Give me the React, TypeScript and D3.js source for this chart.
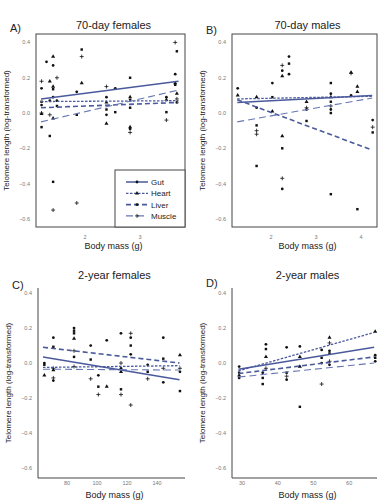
import React from 'react';
import * as d3 from 'd3';

const tissues = ['Gut', 'Heart', 'Liver', 'Muscle'];
const yTicks = [-0.6, -0.4, -0.2, 0, 0.2, 0.4];

// A) 70-day females
const gutA = [[1.21, 0.14], [1.21, 0.045], [1.3, 0.29], [1.36, 0.07], [1.42, 0.27], [1.42, 0.09], [1.49, 0.07], [1.85, 0.12], [2.39, 0.09], [2.39, -0.01], [2.55, 0.14], [2.82, 0.075], [2.82, -0.09], [3.48, 0.09], [3.64, 0.22], [3.67, 0.06]];
const heartA = [[1.21, -0.005], [1.36, 0.18], [1.42, 0.32], [1.42, 0.15], [1.42, -0.03], [1.94, 0.17], [2.39, 0.06], [2.39, -0.06], [2.82, 0.09], [2.82, -0.08], [3.48, 0.075], [3.64, 0.17], [3.67, 0.11]];
const liverA = [[1.21, 0.064], [1.21, -0.08], [1.36, -0.13], [1.42, 0.135], [1.42, -0.39], [1.49, 0.04], [1.85, -0.01], [1.94, 0.36], [2.39, 0.02], [2.55, 0.005], [2.82, 0.2], [2.82, 0.03], [3.48, 0.005], [3.64, 0.16], [3.67, 0.35]];
const muscleA = [[1.21, 0.18], [1.21, 0.0], [1.36, -0.01], [1.42, -0.55], [1.49, 0.2], [1.85, -0.51], [1.94, 0.32], [2.39, 0.15], [2.82, -0.11], [3.48, -0.04], [3.64, 0.4], [3.67, 0.08]];
const fitRangeA = [1.2, 3.7];
const fitsA = [[0.08, 0.18], [0.065, 0.07], [0.03, 0.06], [-0.05, 0.13]];

// B) 70-day males
const gutB = [[1.26, 0.14], [1.68, 0.03], [2.03, 0.17], [2.25, 0.24], [2.25, -0.43], [2.4, 0.32], [2.4, 0.22], [2.79, 0.02], [3.33, 0.11], [3.33, 0.02], [3.78, 0.1], [4.26, -0.04]];
const heartB = [[1.26, 0.1], [1.68, 0.09], [2.03, 0.01], [2.25, 0.21], [2.25, -0.13], [2.79, 0.064], [3.33, 0.09], [3.78, 0.23], [3.92, 0.15], [3.92, 0.12]];
const liverB = [[1.68, -0.07], [1.68, -0.3], [2.03, 0.09], [2.25, -0.2], [2.4, 0.28], [2.79, -0.045], [3.33, 0.17], [3.33, 0.064], [3.33, 0.0], [3.33, -0.46], [3.92, -0.545], [4.26, -0.11]];
const muscleB = [[1.68, -0.1], [1.68, -0.12], [2.25, 0.27], [2.25, -0.37], [2.79, 0.03], [3.33, 0.04], [3.78, 0.225], [4.26, -0.08]];
const fitRangeB = [1.25, 4.25];
const fitsB = [[0.06, 0.1], [0.08, 0.095], [0.075, -0.21], [-0.05, 0.085]];

// C) 2-year females
const gutC = [[64.9, 0.0], [70.9, 0.145], [70.9, -0.1], [84.7, 0.2], [84.7, 0.035], [95.8, 0.1], [100.9, -0.07], [106.5, 0.13], [116, 0.17], [116, -0.03], [122.5, 0.145], [122.5, 0.05], [133.8, -0.01], [144.2, 0.145], [144.2, -0.11], [155.3, -0.05]];
const heartC = [[64.9, -0.07], [70.9, -0.04], [84.7, 0.14], [106.5, -0.135], [116, -0.05], [155.3, 0.045]];
const liverC = [[64.9, -0.01], [70.9, 0.093], [84.7, 0.185], [84.7, 0.17], [95.8, 0.02], [100.9, -0.135], [116, -0.15], [122.5, 0.1], [133.8, -0.05], [144.2, 0.025], [155.3, -0.16]];
const muscleC = [[70.9, -0.03], [70.9, -0.085], [84.7, 0.07], [84.7, -0.02], [95.8, -0.09], [100.9, -0.18], [116, 0.0], [116, -0.18], [122.5, 0.17], [122.5, -0.24], [133.8, -0.09], [144.2, -0.03], [155.3, -0.03]];
const fitRangeC = [64, 155];
const fitsC = [[0.035, -0.095], [-0.025, -0.015], [0.09, 0.0], [-0.035, -0.04]];

// D) 2-year males
const gutD = [[29.2, -0.02], [29.2, -0.085], [35.8, -0.055], [36.7, 0.107], [42.5, 0.09], [42.5, -0.095], [46.2, 0.095], [52.3, 0.075], [52.3, 0.0], [54.5, 0.07], [54.5, -0.01], [67.3, 0.045], [67.3, 0.01]];
const heartD = [[29.2, -0.07], [36.7, 0.035], [46.2, 0.035], [46.2, -0.02], [54.5, 0.145], [67.3, 0.18]];
const liverD = [[29.2, -0.055], [35.8, -0.085], [35.8, -0.12], [36.7, 0.08], [42.5, -0.055], [46.2, -0.25], [52.3, 0.03], [54.5, 0.055], [67.3, 0.03]];
const muscleD = [[36.7, -0.03], [42.5, -0.075], [52.3, -0.12], [54.5, 0.115], [54.5, 0.01]];
const fitRangeD = [29, 67];
const fitsD = [[-0.035, 0.09], [-0.045, 0.175], [-0.06, 0.035], [-0.08, 0.0]];

const lineColor = '#4a5a9c';
const lineStyles = [
  { dash: 'none', width: 1.5, color: lineColor },
  { dash: '2.5,1.5', width: 1.3, color: lineColor },
  { dash: '5,3', width: 1.6, color: lineColor },
  { dash: '7,4', width: 1.1, color: '#6677b3' },
];
const font = 'Liberation Sans, Arial, sans-serif';

const Marker = ({ type, x, y }) => {
  if (type === 3) {
    return (
      <g stroke="#111" strokeWidth={0.8}>
        <line x1={x - 2} x2={x + 2} y1={y} y2={y} />
        <line x1={x} x2={x} y1={y - 2} y2={y + 2} />
      </g>
    );
  }
  const sym = [d3.symbolCircle, d3.symbolTriangle, d3.symbolSquare][type];
  const size = [6, 7, 6][type];
  return <path d={d3.symbol(sym, size)()} transform={`translate(${x},${y})`} fill="#111" />;
};

const Panel = ({ box, xDomain, yDomain, xTicks, title, letter, points, fits, fitRange, frame, legend, pos }) => {
  const [left, right, top, bottom] = box;
  const x = d3.scaleLinear().domain(xDomain).range([left, right]);
  const y = d3.scaleLinear().domain(yDomain).range([bottom, top]);
  const fmt = d3.format('.1f');
  const cx = (left + right) / 2 + 3;
  const cy = (top + bottom) / 2;
  return (
    <g fontFamily={font}>
      {frame ? (
        <rect x={left} y={top} width={right - left} height={bottom - top} fill="none" stroke="#444" strokeWidth={1} />
      ) : (
        <path d={`M${left},${top}V${bottom}H${right}`} fill="none" stroke="#444" strokeWidth={1} />
      )}
      {yTicks.map((t) => (
        <text key={t} x={left - 6} y={y(t) + 2} fontSize={5.5} fill="#777" textAnchor="end">
          {fmt(t)}
        </text>
      ))}
      {xTicks.map((t) => (
        <text key={t} x={x(t)} y={bottom + pos.tickDy} fontSize={5.5} fill="#777" textAnchor="middle">
          {t}
        </text>
      ))}
      <text x={cx} y={pos.titleY} fontSize={11} textAnchor="middle" fill="#222">{title}</text>
      <text x={left - 26} y={pos.letterY} fontSize={11} fill="#222">{letter}</text>
      <text x={cx} y={pos.xLabelY} fontSize={9} textAnchor="middle" fill="#222">Body mass (g)</text>
      <text transform={`translate(${left - 27},${cy}) rotate(-90)`} fontSize={8} textAnchor="middle" fill="#222">
        Telomere length (log-transformed)
      </text>
      {points.map((pts, ti) =>
        pts.map((p, i) => <Marker key={`${ti}-${i}`} type={ti} x={x(p[0])} y={y(p[1])} />)
      )}
      {fits.map((f, ti) => (
        <line
          key={ti}
          x1={x(fitRange[0])}
          x2={x(fitRange[1])}
          y1={y(f[0])}
          y2={y(f[1])}
          stroke={lineStyles[ti].color}
          strokeWidth={lineStyles[ti].width}
          strokeDasharray={lineStyles[ti].dash}
        />
      ))}
      {legend && (
        <g>
          <rect x={right - 70} y={bottom - 57} width={70} height={57} fill="#fff" stroke="#444" strokeWidth={1} />
          {tissues.map((name, ti) => {
            const ly = bottom - 45 + ti * 11.3;
            return (
              <g key={name}>
                <line x1={right - 59} x2={right - 37} y1={ly} y2={ly} stroke={lineStyles[ti].color} strokeWidth={lineStyles[ti].width} strokeDasharray={lineStyles[ti].dash} />
                <Marker type={ti} x={right - 48} y={ly} />
                <text x={right - 34} y={ly + 3} fontSize={8} fill="#222">{name}</text>
              </g>
            );
          })}
        </g>
      )}
    </g>
  );
};

export default function App() {
  return (
    <svg width={390} height={500} style={{ position: 'absolute', left: 0, top: 0, background: '#fff' }}>
      <Panel
        box={[36, 185, 34, 227]} xDomain={[1.109, 3.818]} yDomain={[-0.646, 0.448]} xTicks={[2, 3]}
        title="70-day females" letter="A)" points={[gutA, heartA, liverA, muscleA]} fits={fitsA} fitRange={fitRangeA}
        frame legend pos={{ tickDy: 12, titleY: 29, letterY: 32, xLabelY: 249 }}
      />
      <Panel
        box={[232, 377, 34, 227]} xDomain={[1.133, 4.356]} yDomain={[-0.646, 0.448]} xTicks={[2, 3, 4]}
        title="70-day males" letter="B)" points={[gutB, heartB, liverB, muscleB]} fits={fitsB} fitRange={fitRangeB}
        frame legend={false} pos={{ tickDy: 12, titleY: 29, letterY: 34, xLabelY: 249 }}
      />
      <Panel
        box={[38, 185, 288, 478]} xDomain={[60.67, 158.67]} yDomain={[-0.657, 0.429]} xTicks={[80, 100, 120, 140]}
        title="2-year females" letter="C)" points={[gutC, heartC, liverC, muscleC]} fits={fitsC} fitRange={fitRangeC}
        frame={false} legend={false} pos={{ tickDy: 7, titleY: 279, letterY: 289, xLabelY: 498 }}
      />
      <Panel
        box={[232, 377, 288, 478]} xDomain={[27.2, 67.8]} yDomain={[-0.657, 0.429]} xTicks={[30, 40, 50, 60]}
        title="2-year males" letter="D)" points={[gutD, heartD, liverD, muscleD]} fits={fitsD} fitRange={fitRangeD}
        frame={false} legend={false} pos={{ tickDy: 7, titleY: 279, letterY: 287, xLabelY: 498 }}
      />
    </svg>
  );
}
